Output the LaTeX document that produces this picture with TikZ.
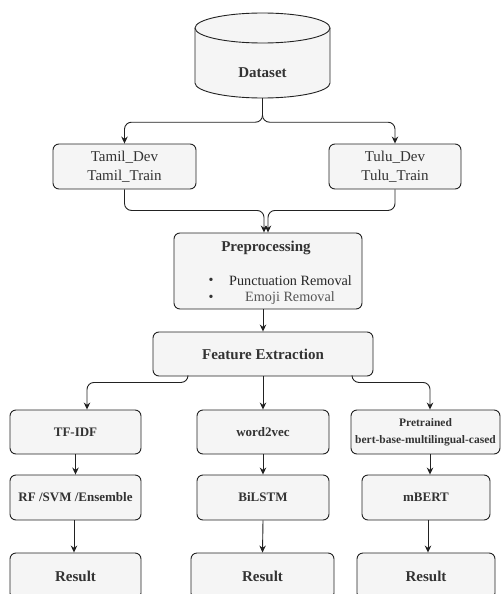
\documentclass[tikz,border=0pt]{standalone}
\usepackage{fontspec}
\setmainfont{Liberation Serif}
\usetikzlibrary{arrows.meta}
\definecolor{boxfill}{HTML}{F5F5F5}
\definecolor{txt}{HTML}{333333}
\definecolor{linec}{HTML}{222222}
\definecolor{lighttxt}{HTML}{555555}
\begin{document}
\begin{tikzpicture}[x=1pt,y=-1pt,
  box/.style={draw=linec, fill=boxfill, rounded corners=6pt, line width=0.9pt, inner sep=2pt, text=txt},
  arr/.style={draw=linec, line width=0.9pt, rounded corners=7pt, -{Stealth[length=7pt,width=6.5pt]}},
  big/.style={font=\fontsize{15}{19}\selectfont},
  bigb/.style={font=\fontsize{15}{19}\selectfont\bfseries},
  midb/.style={font=\fontsize{13}{16}\selectfont\bfseries},
  smb/.style={font=\fontsize{11.5}{17}\selectfont\bfseries}
]
\useasboundingbox (0,0) rectangle (501,594);
\clip (0,0) rectangle (501,594);
% Dataset cylinder
\draw[draw=linec, fill=boxfill, line width=0.9pt]
  (195,28) -- (195,83) arc[start angle=180,end angle=360,x radius=67.5pt,y radius=15pt]
  -- (330,28) arc[start angle=0,end angle=180,x radius=67.5pt,y radius=15pt] -- cycle;
\draw[draw=linec, line width=0.9pt] (195,28) arc[start angle=180,end angle=360,x radius=67.5pt,y radius=15pt];
\node[inner sep=0, minimum width=135pt, minimum height=85pt] (ds) at (262.5,55.5) {};
\node[bigb, text=txt] (dst) at (262.5,73) {Dataset};

% Split nodes
\node[box, big, align=center, minimum width=143pt, minimum height=45pt] (tamil) at (124.5,166.5) {Tamil\_Dev\\Tamil\_Train};
\node[box, big, align=center, minimum width=132pt, minimum height=45pt] (tulu) at (395,166.5) {Tulu\_Dev\\Tulu\_Train};

% Preprocessing
\node[box, minimum width=188pt, minimum height=76pt] (pre) at (268,271) {};
\node[bigb, text=txt] (pret) at (266,248) {Preprocessing};
\node[font=\fontsize{14}{16}\selectfont, text=txt] (b1) at (211,281) {•};
\node[font=\fontsize{14}{16}\selectfont, text=txt] (b2) at (211,298) {•};
\node[font=\fontsize{14.2}{16}\selectfont, text=black!85, anchor=west, inner sep=0] (p1) at (229,281) {Punctuation Removal};
\node[font=\fontsize{14.2}{16}\selectfont, text=lighttxt] (p2) at (290,298) {Emoji Removal};

% Feature extraction
\node[box, bigb, minimum width=220pt, minimum height=44pt] (fe) at (263,354) {Feature Extraction};

% Row 1
\node[box, midb, minimum width=131pt, minimum height=44pt] (tfidf) at (75.5,432) {TF-IDF};
\node[box, midb, minimum width=132pt, minimum height=44pt] (w2v) at (263,432) {word2vec};
\node[box, smb, align=center, minimum width=149pt, minimum height=44pt] (pt) at (425.5,432) {Pretrained\\bert-base-multilingual-cased};

% Row 2
\node[box, midb, minimum width=131pt, minimum height=45pt] (rf) at (75.5,497.5) {RF /SVM /Ensemble};
\node[box, midb, minimum width=132pt, minimum height=45pt] (bil) at (263,497.5) {BiLSTM};
\node[box, midb, minimum width=128pt, minimum height=45pt] (mb) at (426,497.5) {mBERT};

% Row 3
\node[box, bigb, minimum width=131pt, minimum height=46pt] (r1) at (75.5,576) {Result};
\node[box, bigb, minimum width=143pt, minimum height=46pt] (r2) at (262.5,576) {Result};
\node[box, bigb, minimum width=138pt, minimum height=46pt] (r3) at (426,576) {Result};

% Connectors
\draw[arr] (ds.south) -- ++(0,24) -| (tamil.north);
\draw[arr] (ds.south) -- ++(0,24) -| (tulu.north);
\draw[arr] (tamil.south) -- ++(0,21) -| ([xshift=-4pt]pre.north);
\draw[arr] (tulu.south) -- ++(0,21) -| ([xshift=0pt]pre.north);
\draw[arr] ([xshift=-5pt]pre.south) -- (fe.north);
\draw[arr] ([xshift=-75pt]fe.south) -- ++(0,6) -| ([xshift=11.5pt]tfidf.north);
\draw[arr] (fe.south) -- (w2v.north);
\draw[arr] ([xshift=89pt]fe.south) -- ++(0,6) -| ([xshift=4.5pt]pt.north);
\draw[arr] (tfidf.south) -- (rf.north);
\draw[arr] (w2v.south) -- (bil.north);
\draw[arr] ([xshift=4.5pt]pt.south) -- ([xshift=4pt]mb.north);
\draw[arr] ([xshift=-1.5pt]rf.south) -- ([xshift=-1.5pt]r1.north);
\draw[arr] (bil.south) -- (r2.north);
\draw[arr] ([xshift=2pt]mb.south) -- ([xshift=2pt]r3.north);
\end{tikzpicture}
\end{document}
